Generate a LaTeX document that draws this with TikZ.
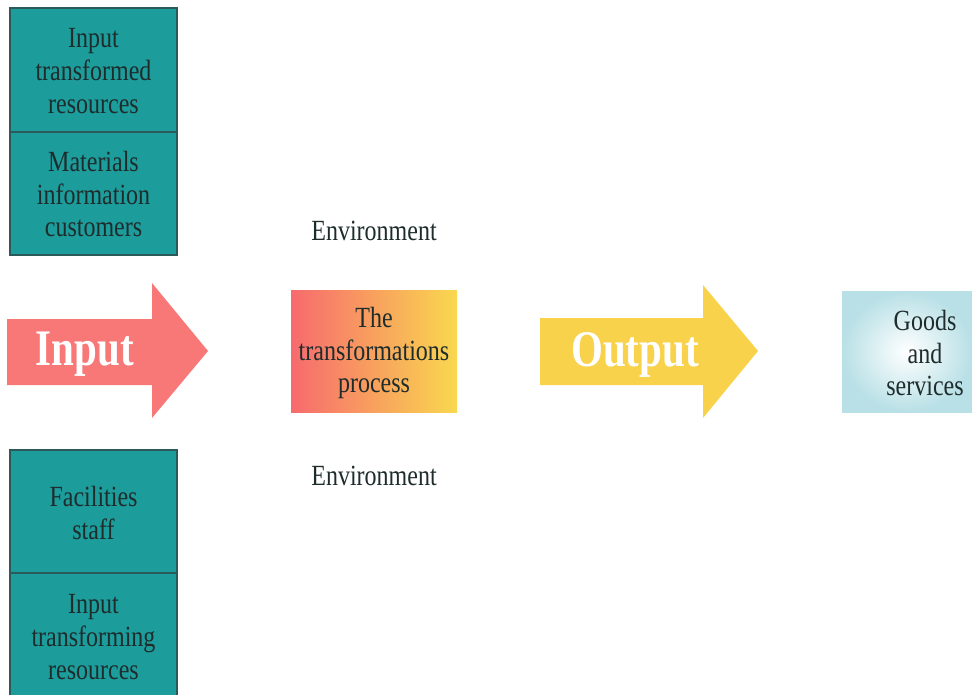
\documentclass[tikz,border=0pt]{standalone}
\usepackage{fontspec}
\setmainfont{Liberation Serif}
\usetikzlibrary{positioning}
\definecolor{boxteal}{HTML}{1D9C9C}
\definecolor{boxedge}{HTML}{2C5A5A}
\definecolor{inred}{HTML}{F87878}
\definecolor{outyellow}{HTML}{F8D24A}
\definecolor{procred}{HTML}{F76A6E}
\definecolor{procyellow}{HTML}{F9D84E}
\definecolor{goodsblue}{HTML}{B8E0E6}
\definecolor{darktxt}{HTML}{1E2C2C}
\tikzset{lbl/.style={align=center,inner sep=0pt,text=darktxt,yscale=1.22,transform shape,font=\fontsize{24}{27}\selectfont},
  arrowlbl/.style={inner sep=0pt,text=white,yscale=1.25,transform shape,font=\fontsize{41}{41}\selectfont\bfseries},
  tealbox/.style={fill=boxteal,draw=boxedge,line width=1.5pt}}

\begin{document}
\begin{tikzpicture}[x=1pt,y=-1pt]
\clip (0,0) rectangle (972,694);\fill[white] (0,0) rectangle (972,694);
% resource boxes
\draw[tealbox] (10,8) rectangle (177,255);\draw[boxedge,line width=1.5pt] (10,132)--(177,132);
\draw[tealbox] (10,450) rectangle (177,700);\draw[boxedge,line width=1.5pt] (10,573)--(177,573);
\node[lbl] (transformed) at (93.5,71) {Input\\transformed\\resources};
\node[lbl] (materials) at (93.5,194) {Materials\\information\\customers};
\node[lbl] (facilities) at (93.5,513) {Facilities\\staff};
\node[lbl] (transforming) at (93.5,637) {Input\\transforming\\resources};
% arrows
\fill[inred] (7,319)--(152,319)--(152,283)--(208,351)--(152,418)--(152,385)--(7,385)--cycle;
\node[arrowlbl] (input) at (85,354) {Input};
\fill[outyellow] (540,318)--(703,318)--(703,285)--(758,351)--(703,418)--(703,385)--(540,385)--cycle;
\node[arrowlbl] (output) at (635,355) {Output};
% process and result
\shade[left color=procred,right color=procyellow] (291,290) rectangle (457,412);
\node[lbl] (process) at (374,353) {The\\transformations\\process};
\shade[inner color=white,outer color=goodsblue] (842,291) rectangle (972,412);
\node[lbl] (goods) at (925,353) {Goods\\and\\services};
\node[lbl] (envtop) at (374,231) {Environment};
\node[lbl] (envbottom) at (374,476) {Environment};
\end{tikzpicture}
\end{document}
